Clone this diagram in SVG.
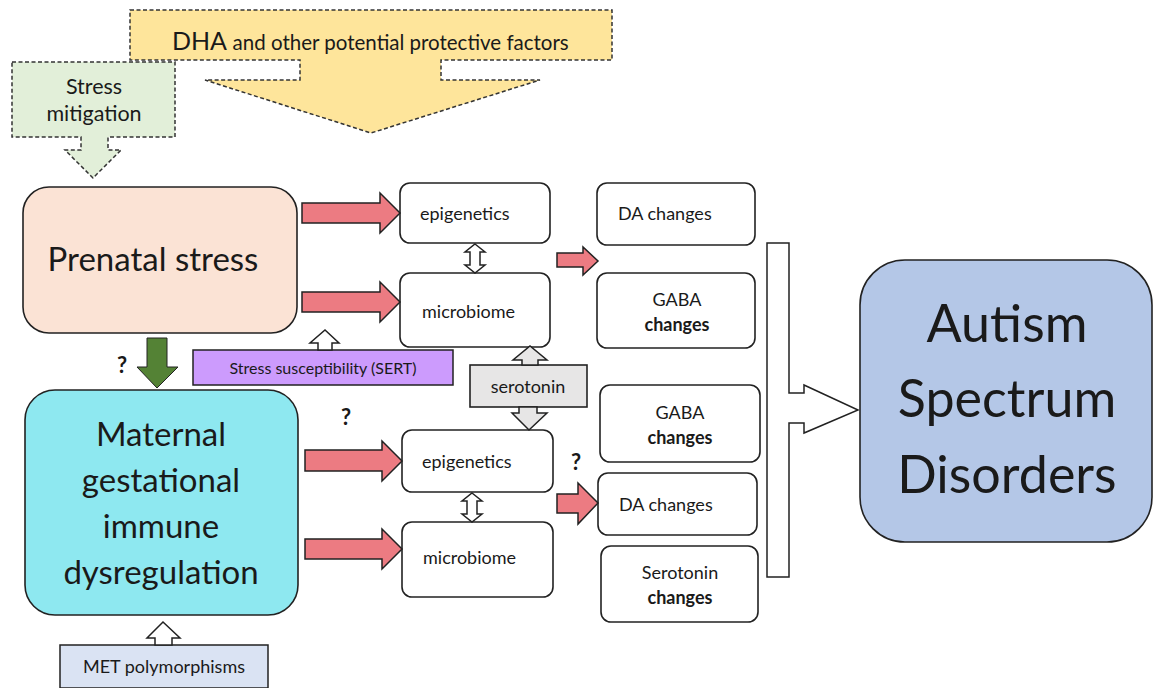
<svg xmlns="http://www.w3.org/2000/svg" width="1155" height="688" viewBox="0 0 1155 688">
<style>
text{font-family:Lato,"Liberation Sans",sans-serif;fill:#1a1a1a}
.box{fill:#fff;stroke:#222;stroke-width:1.6}
.red{fill:#ec7b82;stroke:#222;stroke-width:1.5}
.wa{fill:#fff;stroke:#222;stroke-width:1.5}
.dash{stroke:#333;stroke-width:1.5;stroke-dasharray:4 2.5}
.s15{font-size:18px}
.c{text-anchor:middle}
.b{font-weight:bold}
</style>
<rect width="1155" height="688" fill="#fff"/>
<g id="dha">
<path class="dash" fill="#fee59b" d="M130,10 H612 V60 H441 V80 H540 L371,133 L205,80 H300 V60 H130 Z"/>
<text x="172" y="50" font-size="25">DHA <tspan font-size="20.5">and other potential protective factors</tspan></text>
</g>
<g id="stress-mitigation">
<path class="dash" fill="#e2efd9" d="M12,62 H175 V137 H108 V150 H121 L93,178 L65,150 H81 V137 H12 Z"/>
<text class="c" x="94" y="94" font-size="21.5">Stress</text>
<text class="c" x="94" y="121" font-size="21.5">mitigation</text>
</g>
<g id="prenatal">
<rect x="23" y="187" width="274" height="146" rx="26" fill="#fbe3d5" stroke="#222" stroke-width="1.6"/>
<text class="c" x="153" y="271" font-size="33">Prenatal stress</text>
</g>
<g id="maternal">
<rect x="25" y="390" width="273" height="225" rx="30" fill="#8ee8f0" stroke="#222" stroke-width="1.6"/>
<text class="c" x="161" y="446" font-size="33">Maternal</text>
<text class="c" x="161" y="492" font-size="33">gestational</text>
<text class="c" x="161" y="538" font-size="33">immune</text>
<text class="c" x="161" y="584" font-size="33">dysregulation</text>
</g>
<g id="susceptibility">
<rect x="193" y="350" width="260" height="35" fill="#cc9bfd" stroke="#222" stroke-width="1.5"/>
<text class="c" x="323" y="374" font-size="16">Stress susceptibility (SERT)</text>
</g>
<g id="met">
<rect x="60" y="645" width="208" height="43" fill="#dae3f3" stroke="#222" stroke-width="1.5"/>
<text class="c" x="164" y="673" font-size="18">MET polymorphisms</text>
</g>
<g id="epi1"><rect class="box" x="400" y="183" width="150" height="60" rx="10"/><text class="s15" x="420" y="220">epigenetics</text></g>
<g id="micro1"><rect class="box" x="400" y="273" width="150" height="74" rx="10"/><text class="s15" x="422" y="318">microbiome</text></g>
<g id="epi2"><rect class="box" x="402" y="430" width="151" height="62" rx="10"/><text class="s15" x="422" y="468">epigenetics</text></g>
<g id="micro2"><rect class="box" x="402" y="522" width="151" height="75" rx="10"/><text class="s15" x="423" y="564">microbiome</text></g>
<g id="serotonin">
<rect x="470" y="365" width="117" height="42" fill="#e7e6e6" stroke="#222" stroke-width="1.6"/>
<text class="c" x="528" y="393" font-size="18">serotonin</text>
</g>
<g id="da1"><rect class="box" x="597" y="183" width="158" height="62" rx="10"/><text class="s15" x="618" y="220">DA changes</text></g>
<g id="gaba1"><rect class="box" x="597" y="273" width="158" height="75" rx="10"/><text class="s15 c" x="677" y="306">GABA</text><text class="s15 c b" x="677" y="331">changes</text></g>
<g id="gaba2"><rect class="box" x="600" y="385" width="160" height="77" rx="10"/><text class="s15 c" x="680" y="419">GABA</text><text class="s15 c b" x="680" y="444">changes</text></g>
<g id="da2"><rect class="box" x="598" y="473" width="159" height="62" rx="10"/><text class="s15" x="619" y="511">DA changes</text></g>
<g id="sero-changes"><rect class="box" x="601" y="546" width="157" height="76" rx="10"/><text class="s15 c" x="680" y="579">Serotonin</text><text class="s15 c b" x="680" y="604">changes</text></g>
<g id="asd">
<rect x="860" y="260" width="292" height="282" rx="45" fill="#b4c7e7" stroke="#222" stroke-width="1.6"/>
<text class="c" x="1007" y="342" font-size="52">Autism</text>
<text class="c" x="1007" y="417" font-size="52">Spectrum</text>
<text class="c" x="1007" y="493" font-size="52">Disorders</text>
</g>
<g id="connectors">
<path class="red" d="M302,203 H380 V193 L400,213 L380,233 V223 H302 Z"/>
<path class="red" d="M302,292 H380 V282 L400,302 L380,322 V312 H302 Z"/>
<path class="red" d="M305,450 H382 V441 L402,461 L382,481 V471 H305 Z"/>
<path class="red" d="M305,539 H382 V529 L402,549 L382,569 V559 H305 Z"/>
<path class="red" d="M557,253 H583 V247 L598,261 L583,275 V267 H557 Z"/>
<path class="red" d="M557,494 H578 V483 L598,503 L578,524 V513 H557 Z"/>
<path fill="#548235" stroke="#222" stroke-width="1" d="M147,338 H167 V367 H178 L157,388 L137,367 H147 Z"/>
<path class="wa" d="M318,350 V343 H310 L325,330 L339,343 H332 V350 Z"/>
<path class="wa" d="M155,645 V638 H147 L163,622 L180,638 H172 V645 Z"/>
<path class="wa" d="M475,244 L485,252 H480 V265 H485 L475,273 L465,265 H470 V252 H465 Z"/>
<path class="wa" d="M472,493 L482,501 H477 V514 H482 L472,522 L462,514 H467 V501 H462 Z"/>
<path fill="#e7e6e6" stroke="#222" stroke-width="1.5" d="M522,365 V360 H513 L530,346 L547,360 H538 V365 Z"/>
<path fill="#e7e6e6" stroke="#222" stroke-width="1.5" d="M519,407 V413 H512 L529,430 L547,413 H537 V407 Z"/>
<path class="wa" d="M767,243 H789 V393 H804 V385 L858,410 L804,433 V423 H789 V577 H767 Z"/>
</g>
<g id="question-marks">
<text class="b" x="117" y="373" font-size="22">?</text>
<text class="b" x="341" y="425" font-size="22">?</text>
<text class="b" x="571" y="470" font-size="22">?</text>
</g>
</svg>
